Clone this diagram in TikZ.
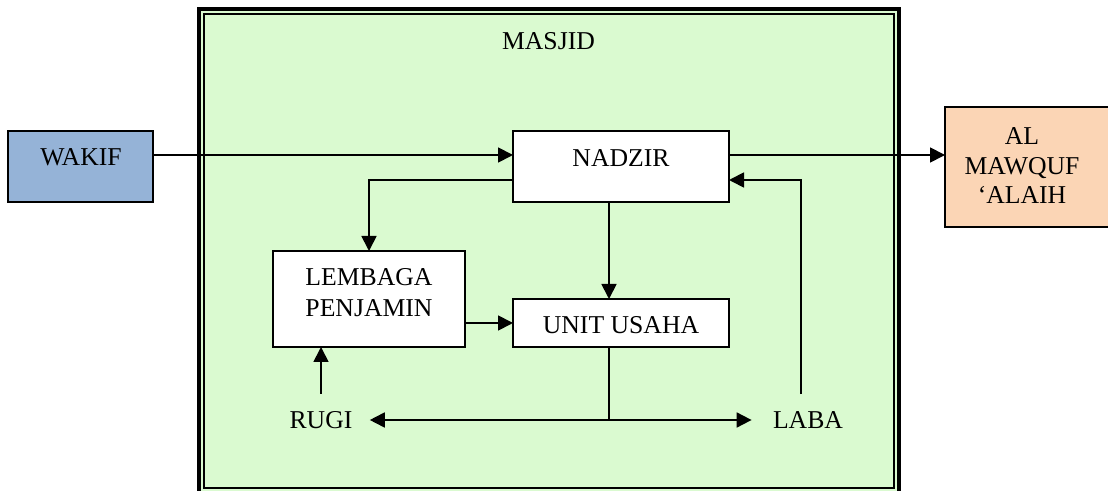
\documentclass[tikz,border=0pt]{standalone}
\usepackage{fontspec}
\setmainfont{Liberation Serif}
\usetikzlibrary{arrows.meta}
\definecolor{masjidgreen}{RGB}{218,250,208}
\definecolor{wakifblue}{RGB}{149,179,215}
\definecolor{mawqufpeach}{RGB}{251,213,181}
\begin{document}
\begin{tikzpicture}[x=0.5pt,y=-0.5pt,
  box/.style={draw=black,line width=1pt,rectangle,inner sep=0pt,outer sep=0pt},
  txt/.style={font=\fontsize{12.85pt}{15.5pt}\selectfont,inner sep=0pt,align=center},
  conn/.style={line width=0.9pt},
  arr/.style={conn,-{Triangle[length=7.5pt,width=7.5pt]}}]
\useasboundingbox (0,0) rectangle (1108,491);
% MASJID frame
\draw[line width=1.65pt,fill=masjidgreen] (199,9) rectangle (899,497);
\draw[line width=1pt] (203.7,13.8) rectangle (893.8,488);
\node[txt,anchor=base] (masjidlabel) at (548.5,50) {MASJID};
% boxes
\node[box,fill=wakifblue,minimum width=72.5pt,minimum height=35.5pt] (wakif) at (80.5,166.5) {};
\node[txt,anchor=base] (wakiftext) at (81,166) {WAKIF};
\node[box,fill=white,minimum width=108pt,minimum height=35.5pt] (nadzir) at (621,166.5) {};
\node[txt,anchor=base] (nadzirtext) at (621,166.5) {NADZIR};
\node[box,fill=mawqufpeach,minimum width=82pt,minimum height=60pt] (mawquf) at (1027,167) {};
\node[txt,font=\fontsize{12.85pt}{14.75pt}\selectfont] (mawquftext) at (1022,166) {AL\\MAWQUF\\‘ALAIH};
\node[box,fill=white,minimum width=96pt,minimum height=48pt] (lembaga) at (369,299) {};
\node[txt] (lembagatext) at (369,292.5) {LEMBAGA\\PENJAMIN};
\node[box,fill=white,minimum width=108pt,minimum height=24pt] (unit) at (621,323) {};
\node[txt,anchor=base] (unittext) at (621,334) {UNIT USAHA};
\node[txt,inner xsep=8.5pt,inner ysep=8.5pt] (rugi) at (321,420) {RUGI};
\node[txt,inner xsep=10.5pt,inner ysep=8.5pt] (laba) at (808,420) {LABA};
% helper coordinates
\coordinate (r1) at (0,155);
\coordinate (r2) at (0,180);
\coordinate (r3) at (0,323);
\coordinate (j) at (609,420);
% connectors
\draw[arr] (wakif.east |- r1) -- (nadzir.west |- r1);
\draw[arr] (nadzir.east |- r1) -- (mawquf.west |- r1);
\draw[arr] (nadzir.west |- r2) -| (lembaga.north);
\draw[arr] (j |- nadzir.south) -- (j |- unit.north);
\draw[arr] (lembaga.east |- r3) -- (unit.west |- r3);
\draw[conn] (j |- unit.south) -- (j);
\draw[arr] (j) -- (rugi.east);
\draw[arr] (j) -- (laba.west);
\draw[arr] (rugi.north) -- (lembaga.south -| rugi.north);
\draw[arr] ([xshift=-3.5pt]laba.north) |- (nadzir.east |- r2);
\end{tikzpicture}
\end{document}
